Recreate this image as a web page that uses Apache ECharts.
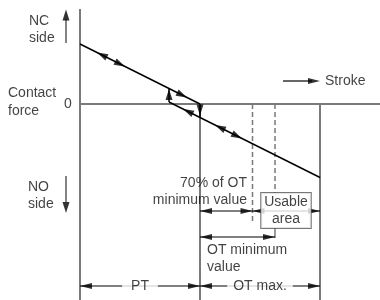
<!DOCTYPE html>
<html>
<head>
<meta charset="utf-8">
<script src="https://cdn.jsdelivr.net/npm/echarts@6/dist/echarts.min.js"></script>
<style>
html,body{margin:0;padding:0;background:#fff;}
#chart{width:380px;height:300px;}
</style>
</head>
<body>
<div id="chart"></div>
<script>
// stroke on x, contact force on y (diagram units)
var pt = 12;            // pre-travel
var otMax = 12;         // over-travel max.
var otMin = 7.5;        // OT minimum value
var otMinPct = 0.7;     // 70% of OT minimum value

var pressLine = [[0, 6], [12, 0]];          // NC contact force while pressing
var snapLine = [[12, 0], [12, -1.35]];      // snap over to NO side
var noLine = [[8.9, 0.2], [24, -7.35]];     // NO contact force
var resetLine = [[8.9, 0.2], [8.9, 1.55]];  // snap back to NC side

// arrowheads along the paths: stroke, force, direction
var pressArrows = [[2.2, 4.9, -1], [4, 4, 1], [10.2, 0.9, 1]];
var noArrows = [[10.8, -0.75, -1], [14, -2.35, -1], [15.7, -3.2, 1]];

var labels = ['NC\nside', 'Contact\nforce', '0', 'NO\nside', 'Stroke',
  '70% of OT\nminimum value', 'Usable\narea', 'OT minimum\nvalue', 'PT', 'OT max.'];

var GRAY = '#7a7a7a';
var FONT = 'Liberation Sans, Arial, Helvetica, sans-serif';
var FWD = -116.57, BACK = 63.43;  // triangle rotation along the slope

var otEnd = pt + otMax;
var pctX = pt + otMin * otMinPct;
var minX = pt + otMin;

function seg(data, color, width, dash, z) {
  return {
    type: 'line', data: data, symbol: 'none', showSymbol: false, silent: true,
    z: z || 2,
    lineStyle: { color: color, width: width, type: dash || 'solid', cap: 'butt' }
  };
}

function heads(items, size) {
  return {
    type: 'scatter', symbol: 'triangle', symbolSize: size || [7, 11], silent: true, z: 5,
    itemStyle: { color: '#000' },
    data: items.map(function (d) { return { value: [d[0], d[1]], symbolRotate: d[2] }; })
  };
}

// dimension line with a head at each end (1 unit = 10px, head is 12px long)
function dimHeads(x0, x1, y) {
  return [[x0 + 0.6, y, 90], [x1 - 0.6, y, -90]];
}

var dimY1 = -10.7, dimY2 = -13.3, dimY3 = -18.2;

var arrowItems = []
  .concat(pressArrows.map(function (a) { return [a[0], a[1], a[2] > 0 ? FWD : BACK]; }))
  .concat(noArrows.map(function (a) { return [a[0], a[1], a[2] > 0 ? FWD : BACK]; }))
  .concat([[12, -0.6, 180], [8.9, 0.95, 0]]);

var dimItems = []
  .concat(dimHeads(pt, pctX, dimY1))
  .concat(dimHeads(pctX, otEnd, dimY1))
  .concat(dimHeads(pt, minX, dimY2))
  .concat(dimHeads(0, pt, dimY3))
  .concat(dimHeads(pt, otEnd, dimY3))
  .concat([[23.4, 2.3, -90]]);

var sideItems = [[-1.4, 8.9, 0], [-1.4, -10.35, 180]];

function txt(x, y, i, extra) {
  var lab = {
    show: true, position: 'inside', formatter: labels[i], color: '#111',
    fontSize: 14, fontFamily: FONT, lineHeight: 17, align: 'left', verticalAlign: 'middle'
  };
  for (var k in extra) lab[k] = extra[k];
  return { value: [x, y], label: lab };
}

var chart = echarts.init(document.getElementById('chart'));
chart.setOption({
  animation: false,
  backgroundColor: '#fff',
  grid: { left: 0, right: 0, top: 0, bottom: 0 },
  xAxis: { type: 'value', min: -8, max: 30, show: false },
  yAxis: { type: 'value', min: -19.6, max: 10.4, show: false },
  series: [
    // axes and stroke marks
    seg([[0, 9.5], [0, -20]], GRAY, 2),
    seg([[0, 0], [30, 0]], GRAY, 2),
    seg([[pt, 0], [pt, -20]], GRAY, 2),
    seg([[otEnd, 0], [otEnd, -20]], GRAY, 2),
    seg([[pctX, 0], [pctX, -11.8]], GRAY, 1.5, [5, 3]),
    seg([[minX, 0], [minX, -8.9]], GRAY, 1.5, [5, 3]),
    seg([[minX, -12.4], [minX, -13.4]], GRAY, 1.5),
    // contact force paths
    seg(pressLine, '#000', 1.5, null, 3),
    seg(snapLine, '#000', 1.5, null, 3),
    seg(noLine, '#000', 1.5, null, 3),
    seg(resetLine, '#000', 1.5, null, 3),
    // dimension lines
    seg([[pt, dimY1], [otEnd, dimY1]], '#000', 1.2, null, 3),
    seg([[pt, dimY2], [minX, dimY2]], '#000', 1.2, null, 3),
    seg([[0, dimY3], [otEnd, dimY3]], '#000', 1.2, null, 3),
    // side arrows and stroke arrow
    seg([[-1.4, 6.1], [-1.4, 8.5]], '#333', 1.2, null, 3),
    seg([[-1.4, -7.2], [-1.4, -9.8]], '#333', 1.2, null, 3),
    seg([[20.3, 2.3], [23.2, 2.3]], '#000', 1.2, null, 3),
    heads(arrowItems, [7, 11]),
    heads(dimItems, [6, 12]),
    heads(sideItems, [7, 11]),
    {
      type: 'scatter', symbolSize: 0, silent: true, z: 10,
      data: [
        txt(-5.1, 7.45, 0),
        txt(-7.2, 0.2, 1, { lineHeight: 18 }),
        txt(-1.2, -0.05, 2, { align: 'center' }),
        txt(-5.2, -9.2, 3),
        txt(24.5, 2.3, 4),
        txt(16.7, -8.75, 5, { align: 'right' }),
        txt(20.6, -10.65, 6, { align: 'center', backgroundColor: '#fff', borderColor: '#555',
          borderWidth: 1, padding: [1, 3, 0, 3] }),
        txt(12.7, -15.5, 7),
        txt(6, dimY3, 8, { align: 'center', backgroundColor: '#fff', padding: [0, 9] }),
        txt(18, dimY3, 9, { align: 'center', backgroundColor: '#fff', padding: [0, 6] })
      ]
    }
  ]
});
</script>
</body>
</html>
